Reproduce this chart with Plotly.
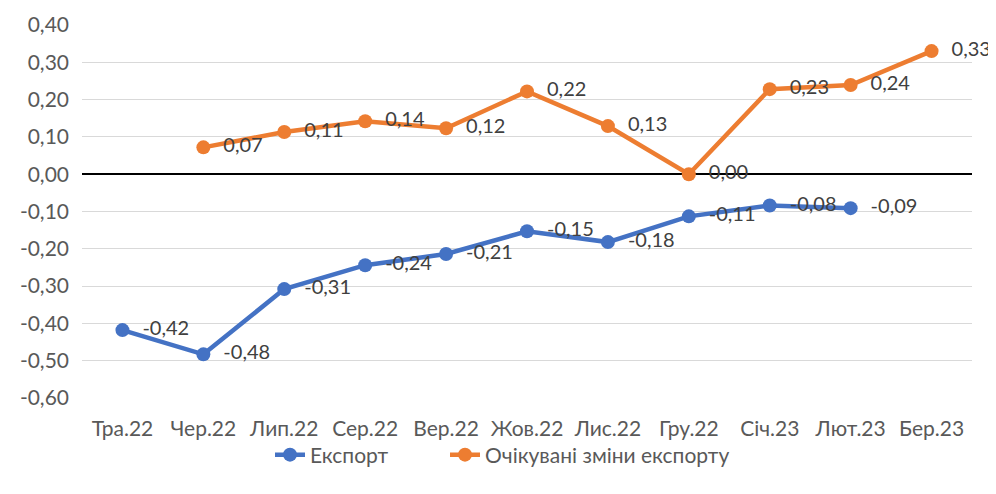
import plotly.graph_objects as go

categories = ["Тра.22", "Чер.22", "Лип.22", "Сер.22", "Вер.22", "Жов.22",
              "Лис.22", "Гру.22", "Січ.23", "Лют.23", "Бер.23"]
export_vals = [-0.418, -0.483, -0.308, -0.244, -0.214, -0.153, -0.182, -0.113, -0.084, -0.091, None]
expected_vals = [None, 0.072, 0.113, 0.142, 0.123, 0.222, 0.129, 0.0, 0.228, 0.239, 0.33]
tick_vals = [0.4, 0.3, 0.2, 0.1, 0.0, -0.1, -0.2, -0.3, -0.4, -0.5, -0.6]
tick_text = ["0,40", "0,30", "0,20", "0,10", "0,00", "-0,10", "-0,20", "-0,30", "-0,40", "-0,50", "-0,60"]

FONT = "Lato, 'Open Sans', sans-serif"
OFF = 8  # default body margin of the html page
W, H = 996 - OFF, 494 - 2 * OFF


def fmt(v):
    if v is None:
        return ""
    s = f"{v:.2f}".replace(".", ",")
    if s == "-0,00":
        s = "0,00"
    return "\u00a0\u00a0" + s


fig = go.Figure()
fig.add_trace(go.Scatter(
    x=categories, y=export_vals, name="Експорт", mode="lines+markers+text",
    line=dict(color="#4472C4", width=4.5), marker=dict(size=14, color="#4472C4"),
    text=[fmt(v) for v in export_vals], textposition="middle right",
    textfont=dict(size=20, color="#404040", family=FONT),
    cliponaxis=False, legend="legend",
))
fig.add_trace(go.Scatter(
    x=categories, y=expected_vals, name="Очікувані зміни експорту", mode="lines+markers+text",
    line=dict(color="#ED7D31", width=4.5), marker=dict(size=14, color="#ED7D31"),
    text=[fmt(v) for v in expected_vals], textposition="middle right",
    textfont=dict(size=20, color="#404040", family=FONT),
    cliponaxis=False, legend="legend2",
))

leg_common = dict(orientation="h", xanchor="left", xref="container",
                  y=1 - (455 - OFF) / H, yanchor="middle", yref="container",
                  font=dict(size=21, color="#595959"), bgcolor="rgba(0,0,0,0)")

fig.update_layout(
    width=W, height=H,
    margin=dict(l=81.5 - OFF, r=W - (972.5 - OFF), t=25 - OFF, b=H - (398 - OFF), autoexpand=False),
    paper_bgcolor="white", plot_bgcolor="white",
    font=dict(family=FONT, size=21, color="#595959"),
    showlegend=True,
    legend=dict(x=(270 - OFF) / W, **leg_common),
    legend2=dict(x=(445 - OFF) / W, **leg_common),
    xaxis=dict(range=[-0.5, 10.5], showgrid=False, showline=False, ticks="", zeroline=False,
               automargin=False, ticklabelstandoff=16,
               tickfont=dict(size=21, color="#595959")),
    yaxis=dict(range=[-0.6, 0.4], tickvals=tick_vals, ticktext=tick_text,
               showgrid=True, gridcolor="#D9D9D9", gridwidth=1,
               zeroline=True, zerolinecolor="black", zerolinewidth=1.5,
               showline=False, ticks="", ticklen=0, automargin=False,
               ticklabelstandoff=12,
               tickfont=dict(size=21, color="#595959")),
)

fig.write_html("out.html")
